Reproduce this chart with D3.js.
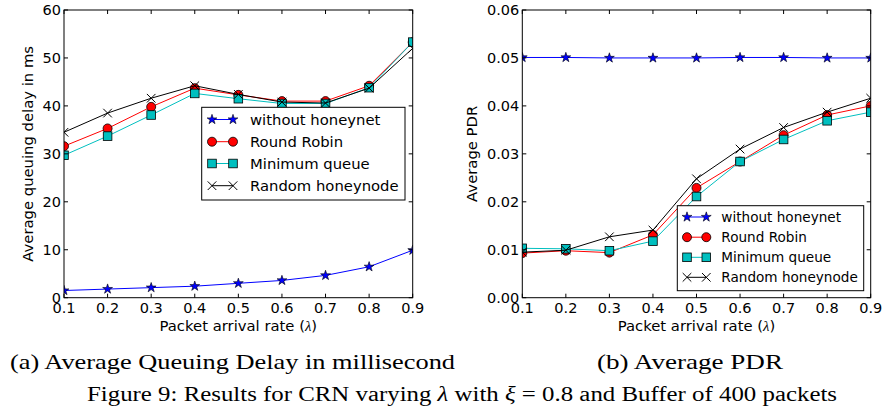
<!DOCTYPE html>
<html><head><meta charset="utf-8">
<script src="https://cdn.jsdelivr.net/npm/d3@7"></script>
<style>body{margin:0;background:#fff}svg{display:block}</style>
</head><body>
<svg id="c" width="886" height="406"></svg>
<script>
const xValues = [0.1,0.2,0.3,0.4,0.5,0.6,0.7,0.8,0.9];
const xTicks = ["0.1","0.2","0.3","0.4","0.5","0.6","0.7","0.8","0.9"];
const seriesNames = ["without honeynet","Round Robin","Minimum queue","Random honeynode"];

// (a) Average queuing delay in ms
const delayWithout = [1.5,1.8,2.1,2.4,3.0,3.6,4.65,6.45,9.9];
const delayRR      = [31.6,35.3,39.8,43.7,42.3,41.0,41.0,44.2,53.3];
const delayMQ      = [29.7,33.7,38.1,42.6,41.5,40.5,40.5,43.8,53.3];
const delayRandom  = [34.5,38.5,41.6,44.2,42.4,40.8,40.6,43.7,52.0];
const delayTicks = [0,10,20,30,40,50,60];
const delayTickLabels = ["0","10","20","30","40","50","60"];

// (b) Average PDR
const pdrWithout = [0.0501,0.0501,0.0500,0.0500,0.0500,0.0501,0.0501,0.0500,0.0500];
const pdrRR      = [0.0093,0.0098,0.0094,0.0131,0.0229,0.0284,0.0339,0.0381,0.0400];
const pdrMQ      = [0.0103,0.0102,0.0098,0.0118,0.0211,0.0284,0.0330,0.0369,0.0387];
const pdrRandom  = [0.0095,0.0099,0.0127,0.0141,0.0248,0.0310,0.0355,0.0387,0.0416];
const pdrTicks = [0,0.01,0.02,0.03,0.04,0.05,0.06];
const pdrTickLabels = ["0.00","0.01","0.02","0.03","0.04","0.05","0.06"];

const styles = [
  {color:"#0000ff", marker:"star"},
  {color:"#ff0000", marker:"circle"},
  {color:"#00bfbf", marker:"square"},
  {color:"#000000", marker:"x"}
];

const svg = d3.select("#c");
const FONT = "'DejaVu Sans', sans-serif";
const SERIF = "'Liberation Serif','Times New Roman',serif";

function drawMarker(g, type, x, y, color) {
  if (type === "circle") {
    g.append("circle").attr("cx",x).attr("cy",y).attr("r",4.5)
      .attr("fill",color).attr("stroke","#000").attr("stroke-width",0.8);
  } else if (type === "square") {
    g.append("rect").attr("x",x-4.3).attr("y",y-4.3).attr("width",8.6).attr("height",8.6)
      .attr("fill",color).attr("stroke","#000").attr("stroke-width",0.8);
  } else if (type === "star") {
    g.append("path").attr("d", d3.symbol().type(d3.symbolStar).size(30)())
      .attr("transform",`translate(${x},${y})`)
      .attr("fill",color).attr("stroke","#000").attr("stroke-width",0.6);
  } else {
    const s = 4.3;
    g.append("path").attr("d",`M${x-s},${y-s}L${x+s},${y+s}M${x-s},${y+s}L${x+s},${y-s}`)
      .attr("stroke",color).attr("stroke-width",1).attr("fill","none");
  }
}

function panel(opt) {
  const {left,right,top,bottom,yMax,series,ticks,tickLabels,ylabel,ylabelX,legend,id} = opt;
  const x = d3.scaleLinear().domain([0.1,0.9]).range([left,right]);
  const y = d3.scaleLinear().domain([0,yMax]).range([bottom,top]);
  const g = svg.append("g");
  g.append("clipPath").attr("id",id).append("rect")
    .attr("x",left).attr("y",top).attr("width",right-left).attr("height",bottom-top);
  const plot = g.append("g").attr("clip-path",`url(#${id})`);
  series.forEach((vals,i) => {
    const st = styles[i];
    const line = d3.line().x((d,j)=>x(xValues[j])).y(d=>y(d));
    plot.append("path").datum(vals).attr("d",line).attr("fill","none")
      .attr("stroke",st.color).attr("stroke-width",1);
    vals.forEach((v,j)=>drawMarker(plot, st.marker, x(xValues[j]), y(v), st.color));
  });
  const tl = 4;
  xValues.forEach(v=>{
    g.append("line").attr("x1",x(v)).attr("x2",x(v)).attr("y1",bottom).attr("y2",bottom-tl).attr("stroke","#000");
    g.append("line").attr("x1",x(v)).attr("x2",x(v)).attr("y1",top).attr("y2",top+tl).attr("stroke","#000");
  });
  ticks.forEach(v=>{
    g.append("line").attr("x1",left).attr("x2",left+tl).attr("y1",y(v)).attr("y2",y(v)).attr("stroke","#000");
    g.append("line").attr("x1",right).attr("x2",right-tl).attr("y1",y(v)).attr("y2",y(v)).attr("stroke","#000");
  });
  g.append("rect").attr("x",left).attr("y",top).attr("width",right-left).attr("height",bottom-top)
    .attr("fill","none").attr("stroke","#000").attr("stroke-width",1);
  xValues.forEach((v,i)=>{
    g.append("text").attr("x",x(v)).attr("y",bottom+15.5).attr("text-anchor","middle")
      .attr("font-family",FONT).attr("font-size",14.5).text(xTicks[i]);
  });
  ticks.forEach((v,i)=>{
    g.append("text").attr("x",left-3).attr("y",y(v)+5.2).attr("text-anchor","end")
      .attr("font-family",FONT).attr("font-size",14.5).text(tickLabels[i]);
  });
  const xl = g.append("text").attr("x",(left+right)/2).attr("y",bottom+33.5).attr("text-anchor","middle")
    .attr("font-family",FONT).attr("font-size",14.8);
  xl.append("tspan").text("Packet arrival rate (");
  xl.append("tspan").attr("font-family",SERIF).attr("font-style","italic").text("λ");
  xl.append("tspan").text(")");
  g.append("text").attr("transform",`translate(${ylabelX},${(top+bottom)/2}) rotate(-90)`)
    .attr("text-anchor","middle").attr("font-family",FONT).attr("font-size",14.8).text(ylabel);
  const L = legend;
  g.append("rect").attr("x",L.x).attr("y",L.y).attr("width",L.w).attr("height",L.h)
    .attr("fill","#fff").attr("stroke","#000").attr("stroke-width",1);
  seriesNames.forEach((name,i)=>{
    const ry = L.rowY[i];
    const st = styles[i];
    g.append("line").attr("x1",L.m1).attr("x2",L.m2).attr("y1",ry).attr("y2",ry)
      .attr("stroke",st.color).attr("stroke-width",1);
    drawMarker(g, st.marker, L.m1, ry, st.color);
    drawMarker(g, st.marker, L.m2, ry, st.color);
    g.append("text").attr("x",L.tx).attr("y",ry+L.fs*0.36).attr("font-family",FONT)
      .attr("font-size",L.fs).text(name);
  });
}

panel({id:"ca",left:64,right:412.7,top:10,bottom:297.7,yMax:60,
  series:[delayWithout,delayRR,delayMQ,delayRandom],ticks:delayTicks,tickLabels:delayTickLabels,
  ylabel:"Average queuing delay in ms",ylabelX:33,
  legend:{x:201.7,y:107.3,w:203.3,h:92.7,rowY:[119.5,141.7,163.5,185.7],m1:212,m2:233,tx:250,fs:14.8}});
panel({id:"cb",left:522.3,right:870.7,top:10,bottom:297.7,yMax:0.06,
  series:[pdrWithout,pdrRR,pdrMQ,pdrRandom],ticks:pdrTicks,tickLabels:pdrTickLabels,
  ylabel:"Average PDR",ylabelX:477,
  legend:{x:677.3,y:205.7,w:186.4,h:85,rowY:[217,237.2,257.3,277.3],m1:687,m2:706.3,tx:721.3,fs:13.6}});

function cap(x0, x1, base, fs) {
  return svg.append("text").attr("x",x0).attr("y",base).attr("font-family",SERIF)
    .attr("font-size",fs).attr("textLength",x1-x0).attr("lengthAdjust","spacingAndGlyphs");
}
cap(10,455,369,21.5).text("(a) Average Queuing Delay in millisecond");
cap(597,783,369,21.5).text("(b) Average PDR");
const f = cap(87,837,401,20.5);
f.append("tspan").text("Figure 9: Results for CRN varying ");
f.append("tspan").attr("font-style","italic").text("λ");
f.append("tspan").text(" with ");
f.append("tspan").attr("font-style","italic").text("ξ");
f.append("tspan").text(" = 0.8 and Buffer of 400 packets");
</script>
</body></html>
